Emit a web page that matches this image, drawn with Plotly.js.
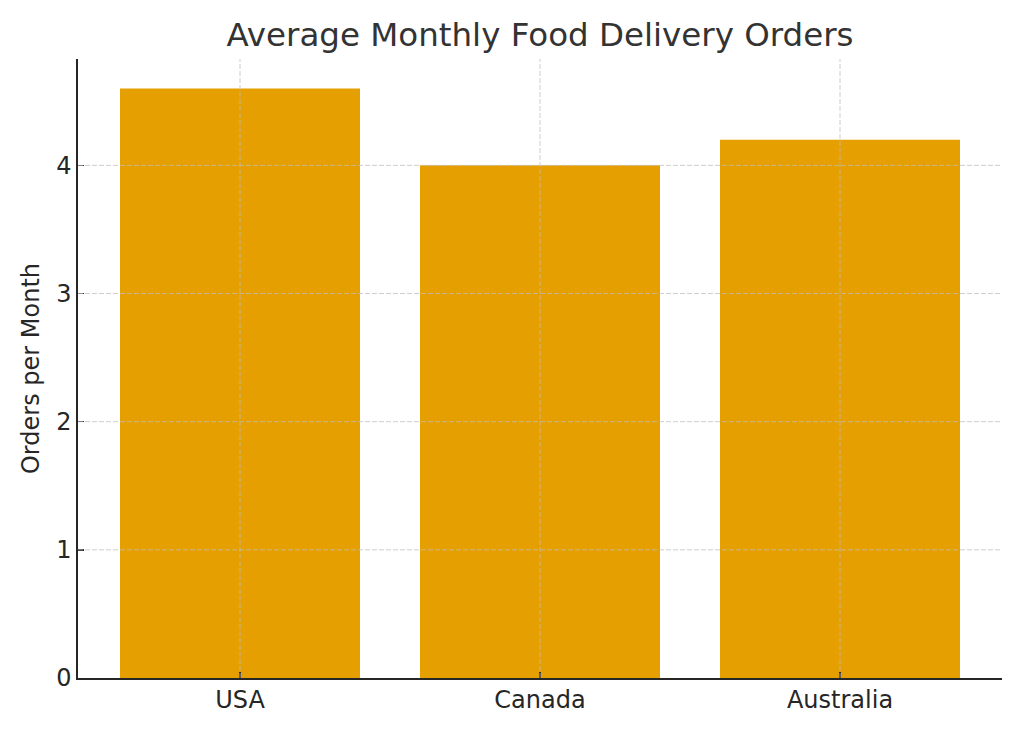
<!DOCTYPE html>
<html>
<head>
<meta charset="utf-8">
<script src="https://cdn.plot.ly/plotly-3.0.1.min.js"></script>
<style>
  html, body { margin: 0; padding: 0; background: #fff; }
  #chart { width: 1024px; height: 731px; }
</style>
</head>
<body>
<div id="chart"></div>
<script>
const categories = ["USA", "Canada", "Australia"];
const orders = [4.6, 4.0, 4.2];
const yTicks = [0, 1, 2, 3, 4];
const chartTitle = "Average Monthly Food Delivery Orders";
const yTitle = "Orders per Month";

const barColor = "#E69F00";
const gridColor = "rgba(190,190,190,0.75)";
const font = "DejaVu Sans, sans-serif";

const xIdx = categories.map((c, i) => i);

const shapes = [];
xIdx.forEach(i => shapes.push({
  type: "line", xref: "x", yref: "paper", x0: i, x1: i, y0: 0, y1: 1,
  line: { color: gridColor, width: 1, dash: "5px,2px" }, layer: "above"
}));
yTicks.filter(v => v > 0).forEach(v => shapes.push({
  type: "line", xref: "paper", yref: "y", x0: 0, x1: 1, y0: v, y1: v,
  line: { color: gridColor, width: 1, dash: "5px,2px" }, layer: "above"
}));

const trace = {
  type: "bar",
  x: xIdx,
  y: orders,
  width: 0.8,
  marker: { color: barColor, line: { width: 0 } },
  hoverinfo: "skip"
};

const layout = {
  width: 1024, height: 731,
  margin: { l: 78, r: 22, t: 59, b: 53, pad: 0 },
  paper_bgcolor: "#fff", plot_bgcolor: "#fff",
  showlegend: false,
  font: { family: font, color: "#262626", size: 24 },
  title: {
    text: chartTitle,
    font: { family: font, size: 32.5, color: "#333333" },
    x: 0.5, xref: "paper", xanchor: "center",
    y: 1 - 35 / 731, yref: "container", yanchor: "middle"
  },
  xaxis: {
    range: [-0.54, 2.54],
    tickmode: "array", tickvals: xIdx, ticktext: categories,
    ticks: "inside", ticklen: 6, tickwidth: 1.5, tickcolor: "#262626",
    showline: true, linecolor: "#262626", linewidth: 1.6,
    showgrid: false, zeroline: false, layer: "above traces",
    tickfont: { family: font, size: 24, color: "#262626" },
    fixedrange: true
  },
  yaxis: {
    range: [0, 4.83],
    tickmode: "array", tickvals: yTicks, ticktext: yTicks.map(String),
    ticks: "inside", ticklen: 6, tickwidth: 1.5, tickcolor: "#262626",
    showline: true, linecolor: "#262626", linewidth: 1.6,
    showgrid: false, zeroline: false, layer: "above traces",
    tickfont: { family: font, size: 24, color: "#262626" },
    title: { text: yTitle, font: { family: font, size: 24, color: "#262626" }, standoff: 10 },
    fixedrange: true
  },
  shapes: shapes
};

Plotly.newPlot("chart", [trace], layout, { displayModeBar: false, staticPlot: true });
</script>
</body>
</html>
